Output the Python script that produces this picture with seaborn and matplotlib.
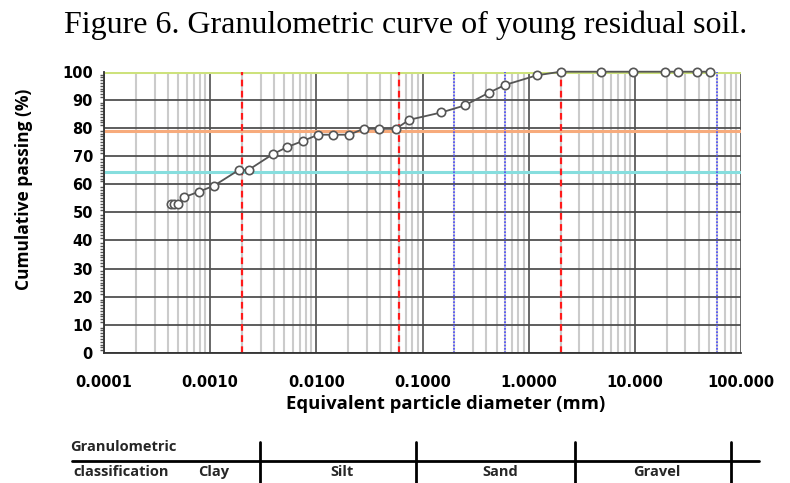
import numpy as np
import pandas as pd
import seaborn as sns
import matplotlib.pyplot as plt
from matplotlib.ticker import FixedLocator, MultipleLocator, LogLocator, NullFormatter

# particle diameter (mm) and cumulative passing (%)
diameter = [0.00043, 0.00046, 0.00050, 0.00057, 0.00079, 0.00109, 0.00187, 0.0023,
            0.0039, 0.0053, 0.0075, 0.0104, 0.0142, 0.0204, 0.0279, 0.0391, 0.0561,
            0.075, 0.15, 0.25, 0.42, 0.60, 1.19, 2.0, 4.76, 9.52, 19.1, 25.4, 38.1, 50.8]
passing = [53.0, 53.0, 53.0, 55.4, 57.4, 59.5, 65.1, 65.1, 70.7, 73.2, 75.4, 77.6,
           77.6, 77.6, 79.7, 79.7, 79.7, 82.9, 85.5, 88.0, 92.5, 95.3, 98.7, 100.0,
           100.0, 100.0, 100.0, 100.0, 100.0, 100.0]

# reference lines
h_levels = [100, 79, 64.3]
h_colors = ['#cde27c', '#f7ab7c', '#86dede']
red_limits = [0.002, 0.06, 2.0]
blue_limits = [0.2, 0.6, 60]

x_ticks = [0.0001, 0.001, 0.01, 0.1, 1, 10, 100]
x_ticklabels = ['0.0001', '0.0010', '0.0100', '0.1000', '1.0000', '10.000', '100.000']
classes = ['Clay', 'Silt', 'Sand', 'Gravel']

df = pd.DataFrame({'d': diameter, 'p': passing})

sns.set_theme(style='white')
plt.rcParams['font.family'] = ['DejaVu Sans']

fig = plt.figure(figsize=(7.9, 4.83), dpi=100)
ax = fig.add_axes([104 / 790, 1 - 353 / 483, 637 / 790, 281.3 / 483])

ax.set_xscale('log')
ax.set_xlim(1e-4, 100)
ax.set_ylim(0, 100)

# grid
ax.xaxis.set_major_locator(FixedLocator(x_ticks))
ax.xaxis.set_minor_locator(LogLocator(base=10, subs=np.arange(2, 10), numticks=20))
ax.xaxis.set_minor_formatter(NullFormatter())
ax.yaxis.set_major_locator(MultipleLocator(10))
ax.yaxis.set_minor_locator(MultipleLocator(1))
ax.grid(True, axis='x', which='minor', color='#cbcbcb', lw=1.5, zorder=0)
ax.grid(True, axis='x', which='major', color='#404040', lw=1.1, zorder=0)
ax.grid(True, axis='y', which='major', color='#505050', lw=1.3, zorder=0)

for y, c in zip(h_levels, h_colors):
    ax.axhline(y, color=c, lw=2.2, zorder=2)
for x in red_limits:
    ax.axvline(x, color='#ff1a1a', lw=1.6, ls=(0, (3, 2)), zorder=2)
for x in blue_limits:
    ax.axvline(x, color='#4a4aff', lw=1.2, ls=(0, (1, 1)), zorder=2)

sns.lineplot(data=df, x='d', y='p', estimator=None, sort=False, ax=ax,
             color='#555555', lw=1.3, marker='o', markersize=6,
             markerfacecolor='white', markeredgecolor='#555555', markeredgewidth=1.2,
             zorder=3, clip_on=False)

for s in ['top', 'right']:
    ax.spines[s].set_visible(False)
for s in ['left', 'bottom']:
    ax.spines[s].set_color('#333333')
    ax.spines[s].set_linewidth(1.3)

ax.set_xticklabels(x_ticklabels)
ax.tick_params(axis='both', which='major', direction='out', length=5, width=1.2,
               color='#333333', labelsize=10.5, labelcolor='#000000')
ax.tick_params(axis='y', which='minor', direction='out', length=3, width=1, color='#555555', left=True)
ax.tick_params(axis='x', which='minor', length=0)
ax.tick_params(axis='x', which='major', pad=11)
ax.tick_params(axis='y', which='major', pad=3)
for lab in ax.get_xticklabels() + ax.get_yticklabels():
    lab.set_fontweight('bold')

ax.set_xlabel('Equivalent particle diameter (mm)', fontsize=13.3, fontweight='bold',
              family='Open Sans', color='#000000')
ax.set_ylabel('Cumulative passing (%)', fontsize=12.5, fontweight='bold',
              family='Open Sans', color='#000000')
ax.xaxis.set_label_coords(0.537, -0.148)
ax.yaxis.set_label_coords(-0.112, 0.583)

fig.text(0.513, 0.948, 'Figure 6. Granulometric curve of young residual soil.',
         ha='center', va='center', fontsize=23, family='Liberation Serif', color='#000000')

# classification strip below the chart
tb = fig.add_axes([0, 0, 1, 63 / 483])
tb.set_xlim(0, 790)
tb.set_ylim(483, 420)
tb.axis('off')
tb.plot([72, 759], [460.5, 460.5], color='black', lw=2)
for xv in [260, 416, 575, 731]:
    tb.plot([xv, xv], [442, 483], color='black', lw=2)
tb.text(70, 447, 'Granulometric', fontsize=10.5, fontweight='bold', family='Open Sans', va='center')
tb.text(73, 471.5, 'classification', fontsize=10.5, fontweight='bold', family='Open Sans', va='center')
for name, xc in zip(classes, [214, 342, 500, 657]):
    tb.text(xc, 472, name, fontsize=10.5, fontweight='bold', family='Open Sans',
            ha='center', va='center')

fig.savefig('out.png', dpi=100)
